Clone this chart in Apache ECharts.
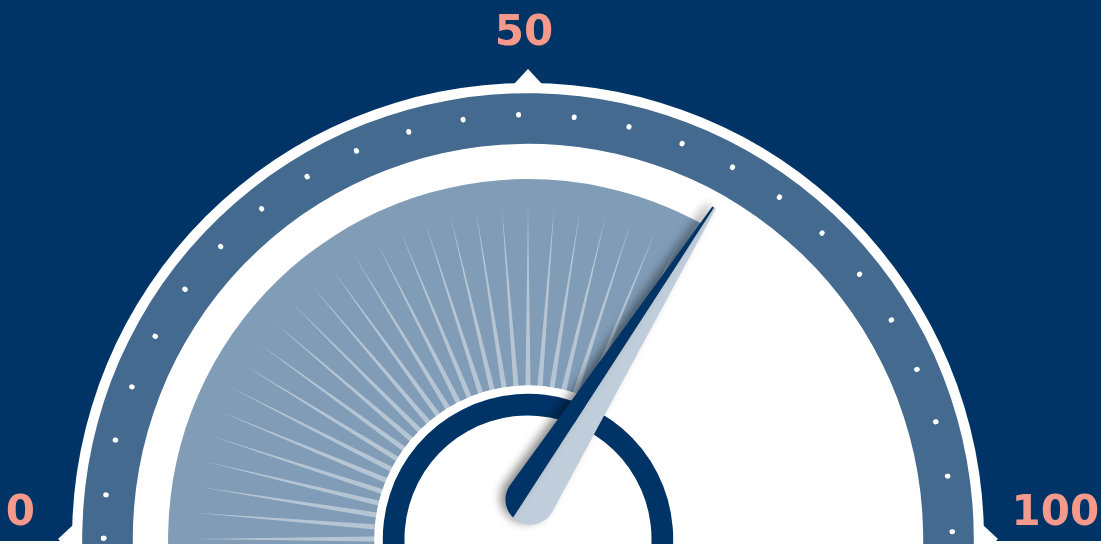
<!DOCTYPE html>
<html><head><meta charset="utf-8">
<script src="https://cdn.jsdelivr.net/npm/echarts@6.0.0/dist/echarts.min.js"></script>
<style>html,body{margin:0;padding:0;background:#fff}#c{width:1101px;height:544px}</style>
</head><body><div id="c"></div>
<script>
// ---------------- data ----------------
const tickValues = [0, 50, 100];          // axis tick labels / rim markers
const gaugeValue = [66];                  // needle value
const rayTicks = [0, 2.5, 5, 7.5, 10, 12.5, 15, 17.5, 20, 22.5, 25, 27.5, 30, 32.5,
                  35, 37.5, 40, 42.5, 45, 47.5, 50, 52.5, 55, 57.5, 60, 62.5, 65];
const scaleMin = 0, scaleMax = 100;

// ---------------- style ----------------
const NAVY = '#003366', BAND = '#446a8f', SECTOR = '#809cb6', LIGHT = '#c0cedb', LABEL = '#f59a8a';
const CENTER = [528, 539];
const PAD = 2.5;                                  // dial extends a bit below horizontal
const DIAL = { min: scaleMin - PAD, max: scaleMax + PAD,
               startAngle: 180 + PAD * 1.8, endAngle: -PAD * 1.8 };

function base(extra) {
  return Object.assign({
    type: 'gauge', center: CENTER, min: DIAL.min, max: DIAL.max,
    startAngle: DIAL.startAngle, endAngle: DIAL.endAngle,
    animation: false, silent: true,
    axisLine: { show: false, lineStyle: { width: 0 } },
    splitLine: { show: false, length: 0, distance: 0 },
    axisTick: { show: false },
    axisLabel: { show: false },
    pointer: { show: false },
    progress: { show: false },
    anchor: { show: false },
    title: { show: false },
    detail: { show: false },
    data: []
  }, extra);
}

// needle design (upright frame, y up, relative to gauge centre)
const NEEDLE = { tip: [3.3, 380.1], cap: [-16.84, 35.81], capR: 25, splitShift: 12 };
function toPointer(pts) {
  const s = pts.map(p => [p[0], -p[1]]);
  const xs = s.map(p => p[0]), ys = s.map(p => p[1]);
  const x0 = Math.min(...xs), x1 = Math.max(...xs), y0 = Math.min(...ys), y1 = Math.max(...ys);
  const w = x1 - x0, h = y1 - y0;
  const path = 'path://' + s.map((p, i) => (i ? 'L' : 'M') + (p[0] - x0).toFixed(3) + ' ' + (p[1] - y0).toFixed(3)).join(' ') + ' Z';
  return { icon: path, width: w, length: h, offsetCenter: [x0 + w / 2, y1] };
}
function needleHalves(tip, cap, r, shiftDeg) {
  const ax = tip[0] - cap[0], ay = tip[1] - cap[1];
  const L = Math.hypot(ax, ay);
  const au = Math.atan2(ay, ax), beta = Math.acos(r / L);
  const aL = au + beta, aR = au - beta, aS = au + Math.PI - shiftDeg * Math.PI / 180;
  const P = a => [cap[0] + r * Math.cos(a), cap[1] + r * Math.sin(a)];
  const arc = (a0, a1) => { const n = 30, o = []; for (let i = 0; i <= n; i++) o.push(P(a0 + (a1 - a0) * i / n)); return o; };
  const nx = Math.cos(au - Math.PI / 2), ny = Math.sin(au - Math.PI / 2);
  const tipL = [tip[0] - 2 * nx, tip[1] - 2 * ny], tipR = [tip[0] + 2 * nx, tip[1] + 2 * ny];
  return {
    light: toPointer([tip].concat(arc(aS, aR + 2 * Math.PI), [tipR])),
    dark: toPointer([tip, tipL].concat(arc(aL, aS)))
  };
}
const needle = needleHalves(NEEDLE.tip, NEEDLE.cap, NEEDLE.capR, NEEDLE.splitShift);
const shadow = { shadowColor: 'rgba(0,0,0,0.45)', shadowBlur: 10, shadowOffsetX: -5, shadowOffsetY: -2 };
const dotLine = { show: true, length: 0.6, distance: 0, lineStyle: { color: '#fff', width: 5, cap: 'round' } };
const labelFont = { fontFamily: 'DejaVu Sans', fontWeight: 'bold', fontSize: 42, color: LABEL };

const series = [
  // dark sky above the horizon
  base({ center: [528, 541], radius: 1400, startAngle: 180, endAngle: 0, z: 1,
         axisLine: { show: true, lineStyle: { width: 1400, color: [[1, NAVY]] } } }),
  // white face (full disk)
  base({ radius: 456, startAngle: 90, endAngle: -270, z: 2,
         axisLine: { show: true, lineStyle: { width: 456, color: [[1, '#fff']] } } }),
  // triangle markers on the rim
  base({ radius: 456, z: 2,
         pointer: { show: true, icon: 'triangle', width: 28, length: 15, offsetCenter: [0, -455],
                    itemStyle: { color: '#fff' } },
         data: tickValues.map(v => ({ value: v })) }),
  // steel band
  base({ radius: 445.8, z: 3,
         axisLine: { show: true, lineStyle: { width: 50.6, color: [[1, BAND]] } } }),
  // dots on band
  base({ radius: 424.6, startAngle: 181.56, endAngle: 0.99, splitNumber: 24, z: 4, splitLine: dotLine }),
  base({ radius: 424.6, startAngle: 179.9, endAngle: -180.1, splitNumber: 1, z: 4, splitLine: dotLine }),
  // value sector
  base({ radius: 359.9, z: 5,
         progress: { show: true, width: 206.4, roundCap: false, itemStyle: { color: SECTOR } },
         data: gaugeValue.map(v => ({ value: v })) }),
  // light rays
  base({ radius: 359.9, z: 6,
         pointer: { show: true, icon: 'triangle', width: 9.5, length: 334, offsetCenter: [0, 0],
                    itemStyle: { color: 'rgba(255,255,255,0.42)' } },
         data: rayTicks.map(v => ({ value: v })) }),
  // hub
  base({ radius: 153.5, z: 7,
         axisLine: { show: true, lineStyle: { width: 153.5, color: [[1, '#fff']] } } }),
  base({ radius: 145.2, z: 8,
         axisLine: { show: true, lineStyle: { width: 21.7, color: [[1, NAVY]] } } }),
  // needle halves
  base({ radius: 360, z: 9,
         pointer: Object.assign({ show: true, keepAspect: false,
                    itemStyle: Object.assign({ color: LIGHT }, shadow) }, needle.light),
         data: gaugeValue.map(v => ({ value: v })) }),
  base({ radius: 360, z: 10,
         pointer: Object.assign({ show: true, keepAspect: false,
                    itemStyle: Object.assign({ color: NAVY }, shadow) }, needle.dark),
         data: gaugeValue.map(v => ({ value: v })) }),
  // tick labels
  base({ radius: 571.7, min: scaleMin, max: scaleMax, startAngle: 177.493, endAngle: 2.507,
         splitNumber: tickValues.length - 1, z: 11,
         axisLabel: Object.assign({ show: true, distance: 0,
           formatter: v => '{' + (v === tickValues[0] ? 'a' : (v === tickValues[2] ? 'c' : 'b')) + '|' + v + '}',
           rich: {
             a: Object.assign({ padding: [0, 0, 0, 49] }, labelFont),
             b: Object.assign({ padding: [46, 8, 0, 0] }, labelFont),
             c: Object.assign({}, labelFont)
           } }, labelFont) })
];

const chart = echarts.init(document.getElementById('c'));
chart.setOption({ backgroundColor: '#fff', animation: false, series: series });
</script>
</body></html>
